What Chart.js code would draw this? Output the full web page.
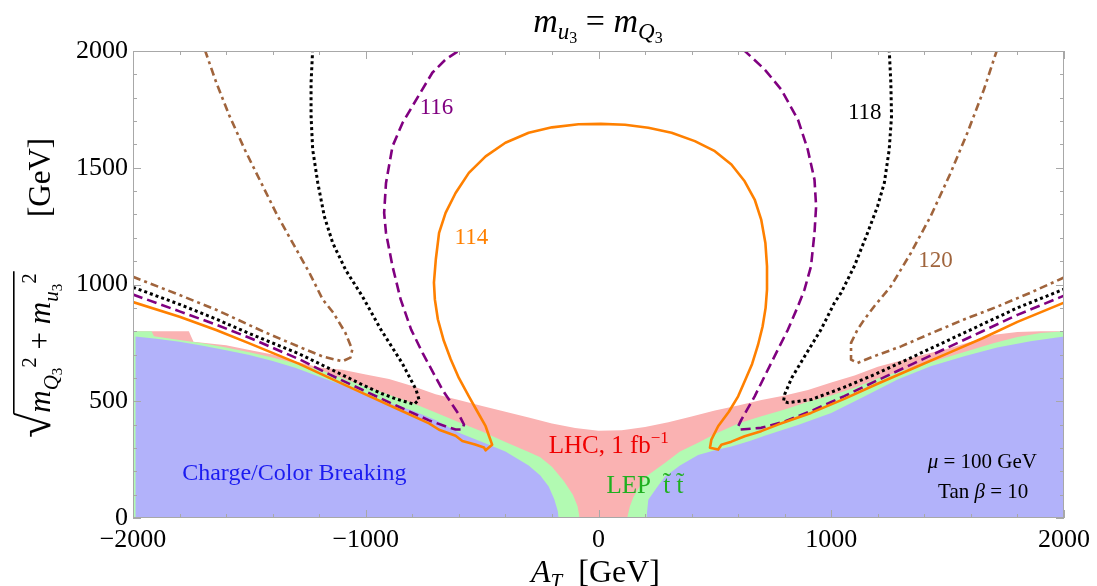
<!DOCTYPE html>
<html><head><meta charset="utf-8">
<script src="https://cdn.jsdelivr.net/npm/chart.js@4.4.1/dist/chart.umd.min.js"></script>
<style>html,body{margin:0;padding:0;background:#fff;overflow:hidden}#wrap{width:1097px;height:586px;position:relative}</style>
</head><body><div id="wrap"><canvas id="c"></canvas></div>
<script>
// ---- axis ticks ----
const xTickValues = [-2000, -1000, 0, 1000, 2000];
const yTickValues = [0, 500, 1000, 1500, 2000];

// ---- shaded regions (upper boundaries, [A_T, sqrt(mQ^2+mu^2)]) ----
const lhcTop = [[-2000,800],[-1900,800],[-1760,800],[-1740,755],[-1600,740],[-1500,720],[-1400,700],[-1300,670],[-1200,645],[-1100,635],[-1000,615],[-900,595],[-800,565],[-700,530],[-600,505],[-500,480],[-400,455],[-300,430],[-200,405],[-100,385],[0,374],[100,376],[200,390],[300,410],[400,435],[500,460],[600,482],[700,505],[800,525],[900,548],[1000,580],[1100,610],[1200,648],[1300,675],[1400,700],[1500,725],[1600,755],[1700,785],[1800,797],[1900,800],[2000,800]];
const lepLeft = [[-2000,800],[-1920,800],[-1910,778],[-1800,762],[-1700,748],[-1600,730],[-1500,710],[-1400,687],[-1300,662],[-1200,635],[-1100,600],[-1000,562],[-900,528],[-800,492],[-700,452],[-600,410],[-500,370],[-400,325],[-300,283],[-250,260],[-200,220],[-150,160],[-110,100],[-90,50],[-81,0]];
const lepRight = [[123,0],[135,50],[150,90],[200,175],[285,236],[350,285],[428,322],[500,360],[600,405],[700,436],[800,465],[900,498],[1000,525],[1100,558],[1200,598],[1300,630],[1400,660],[1500,690],[1600,720],[1700,750],[1800,775],[1900,792],[2000,800]];
const ccbLeft = [[-1990,777],[-1900,768],[-1800,755],[-1700,738],[-1600,718],[-1500,698],[-1400,672],[-1300,642],[-1200,605],[-1100,570],[-1000,525],[-900,492],[-800,460],[-700,420],[-600,365],[-500,325],[-400,285],[-300,225],[-250,182],[-214,135],[-190,80],[-175,30],[-171,0]];
const ccbRight = [[206,0],[210,40],[214,78],[250,130],[285,177],[350,225],[428,270],[500,290],[571,306],[650,330],[714,352],[800,380],[857,398],[1000,450],[1142,520],[1285,593],[1427,650],[1571,693],[1713,730],[1856,757],[2000,777]];

// ---- Higgs mass contours (GeV) ----
const contour114 = [[-2000,925],[-1800,862],[-1643,805],[-1500,748],[-1286,660],[-1156,600],[-1013,535],[-870,470],[-728,405],[-685,378],[-614,352],[-585,330],[-530,315],[-492,302],[-485,290],[-457,314],[-470,350],[-485,393],[-520,455],[-557,521],[-600,600],[-635,680],[-665,760],[-690,850],[-703,936],[-707,1008],[-699,1107],[-685,1221],[-657,1307],[-614,1392],[-557,1478],[-485,1549],[-400,1607],[-300,1650],[-200,1673],[-86,1686],[10,1688],[114,1684],[214,1671],[314,1650],[414,1614],[500,1571],[571,1514],[628,1442],[671,1364],[699,1278],[717,1178],[724,1078],[724,978],[718,900],[705,820],[685,740],[660,660],[630,590],[600,521],[560,455],[514,393],[485,336],[479,301],[514,293],[528,314],[571,327],[628,350],[699,372],[771,400],[913,450],[1056,510],[1199,575],[1350,640],[1500,705],[1650,770],[1800,840],[2000,922]];
const contour116Left = [[-2000,957],[-1800,885],[-1643,828],[-1500,772],[-1286,680],[-1156,615],[-1013,548],[-870,482],[-728,418],[-650,390],[-614,379],[-585,379],[-578,400],[-600,443],[-671,550],[-756,707],[-805,807],[-850,936],[-885,1078],[-913,1221],[-921,1307],[-913,1435],[-885,1592],[-842,1692],[-800,1763],[-714,1907],[-657,1964],[-592,2007]];
const contour116Right = [[621,2007],[714,1921],[785,1835],[857,1706],[899,1578],[928,1449],[935,1335],[928,1221],[913,1078],[885,978],[857,907],[814,807],[742,664],[671,521],[614,421],[600,393],[607,379],[699,386],[800,413],[913,458],[1056,522],[1199,590],[1350,660],[1500,730],[1650,800],[1800,870],[2000,952]];
const contour118Left = [[-2000,988],[-1800,915],[-1643,852],[-1500,790],[-1286,703],[-1156,640],[-1013,570],[-929,532],[-870,510],[-792,487],[-771,507],[-784,550],[-844,664],[-935,807],[-1015,950],[-1085,1060],[-1142,1178],[-1178,1292],[-1206,1435],[-1228,1578],[-1235,1721],[-1235,1864],[-1228,2007]];
const contour118Right = [[1249,2007],[1256,1864],[1259,1721],[1249,1578],[1228,1435],[1199,1335],[1156,1221],[1099,1078],[1042,964],[1013,920],[956,807],[886,693],[830,600],[800,530],[795,500],[814,494],[913,507],[1056,560],[1199,620],[1350,690],[1500,760],[1650,830],[1800,900],[2000,980]];
const contour120Left = [[-2000,1033],[-1800,955],[-1643,892],[-1430,794],[-1286,733],[-1186,692],[-1101,671],[-1066,687],[-1058,721],[-1088,794],[-1140,880],[-1185,936],[-1242,1050],[-1306,1164],[-1378,1292],[-1449,1435],[-1520,1578],[-1585,1721],[-1642,1864],[-1692,2007]];
const contour120Right = [[1713,2007],[1656,1835],[1585,1650],[1513,1478],[1427,1292],[1342,1135],[1256,992],[1185,907],[1142,850],[1113,807],[1085,750],[1085,678],[1113,664],[1185,693],[1300,735],[1427,790],[1570,850],[1713,905],[1856,965],[2000,1030]];
const contourLabels = ['114', '116', '118', '120'];

const SERIF = "'Liberation Serif', serif";
const C = { blue:'rgb(178,178,250)', green:'rgb(178,250,178)', pink:'rgb(250,178,178)',
  orange:'#ff8000', purple:'#800080', black:'#000000', brown:'#a0643c' };

const pts = a => a.map(([x, y]) => ({x, y}));
const region = (d, col, order) => ({ data: pts(d), showLine: true, fill: 'origin', backgroundColor: col,
  borderColor: 'rgba(0,0,0,0)', borderWidth: 0, pointRadius: 0, order });
const curve = (d, col, dash, w) => ({ data: pts(d), showLine: true, fill: false, borderColor: col,
  borderWidth: w, borderDash: dash, borderCapStyle: 'butt', borderJoinStyle: 'round', pointRadius: 0, order: 0, tension: 0 });
const fmt = v => (v < 0 ? '\u2212' + Math.abs(v) : String(v));

function seq(ctx, parts, x, y, align) {
  let w = 0;
  for (const p of parts) { ctx.font = p.f; w += ctx.measureText(p.t).width; }
  let cx = align === 'center' ? x - w / 2 : x;
  for (const p of parts) { ctx.font = p.f; if (p.c) ctx.fillStyle = p.c; ctx.fillText(p.t, cx, y + (p.dy || 0)); cx += ctx.measureText(p.t).width; }
  return cx;
}

const framePlugin = {
  id: 'frame',
  afterDatasetsDraw(chart) {
    const { ctx, chartArea: a, scales: { x, y } } = chart;
    ctx.save();
    ctx.strokeStyle = '#a8a8a8'; ctx.lineWidth = 1;
    ctx.strokeRect(a.left + 0.5, a.top + 0.5, a.right - a.left - 1, a.bottom - a.top - 1);
    ctx.beginPath();
    for (let v = -2000; v <= 2000; v += 200) {
      const p = Math.round(x.getPixelForValue(v)) + 0.5, L = v % 1000 === 0 ? 8 : 4;
      ctx.moveTo(p, a.bottom); ctx.lineTo(p, a.bottom - L);
      ctx.moveTo(p, a.top); ctx.lineTo(p, a.top + L);
    }
    for (let v = 0; v <= 2000; v += 100) {
      const p = Math.round(y.getPixelForValue(v)) + 0.5, L = v % 500 === 0 ? 8 : 4;
      ctx.moveTo(a.left, p); ctx.lineTo(a.left + L, p);
      ctx.moveTo(a.right, p); ctx.lineTo(a.right - L, p);
    }
    ctx.stroke();
    ctx.restore();
  }
};

const textPlugin = {
  id: 'texts',
  afterDraw(chart) {
    const { ctx, scales: { x, y } } = chart;
    const X = v => x.getPixelForValue(v), Y = v => y.getPixelForValue(v);
    ctx.save();
    ctx.textBaseline = 'middle'; ctx.textAlign = 'center';
    const lab = [[contourLabels[0], -546, 1199, C.orange], [contourLabels[1], -696, 1758, C.purple],
                 [contourLabels[2], 1144, 1734, C.black], [contourLabels[3], 1448, 1102, C.brown]];
    ctx.font = '23px ' + SERIF;
    for (const [t, vx, vy, col] of lab) { ctx.fillStyle = col; ctx.fillText(t, X(vx), Y(vy)); }
    ctx.textBaseline = 'alphabetic';
    ctx.fillStyle = '#1c1cf0'; ctx.font = '24px ' + SERIF;
    ctx.fillText('Charge/Color Breaking', X(-1307), Y(164));
    ctx.textAlign = 'left';
    seq(ctx, [{ t: 'LHC, 1 fb', f: '25px ' + SERIF, c: '#f00000' }, { t: '\u22121', f: '17px ' + SERIF, dy: -10 }], X(-214), Y(280));
    seq(ctx, [{ t: 'LEP  t\u0303 t\u0303', f: '25px ' + SERIF, c: '#1fb01f' }], X(34), Y(109));
    ctx.fillStyle = '#000';
    seq(ctx, [{ t: '\u03bc', f: 'italic 21px ' + SERIF }, { t: ' = 100 GeV', f: '21px ' + SERIF }], X(1649), Y(216), 'center');
    seq(ctx, [{ t: 'Tan ', f: '21px ' + SERIF }, { t: '\u03b2', f: 'italic 21px ' + SERIF }, { t: ' = 10', f: '21px ' + SERIF }], X(1653), Y(87), 'center');
    const I = s => 'italic ' + s + 'px ' + SERIF, R = s => s + 'px ' + SERIF;
    // title
    seq(ctx, [{ t: 'm', f: I(34) }, { t: 'u', f: I(23), dy: 7 }, { t: '3', f: R(16), dy: 11 },
              { t: ' = ', f: R(34) }, { t: 'm', f: I(34) }, { t: 'Q', f: I(23), dy: 7 }, { t: '3', f: R(16), dy: 11 }],
        598, 32, 'center');
    // x axis title
    seq(ctx, [{ t: 'A', f: I(32) }, { t: 'T', f: I(21), dy: 6 }, { t: '  [GeV]', f: R(32) }], 531, 582);
    // y axis title (rotated)
    ctx.save();
    ctx.translate(50, 478); ctx.rotate(-Math.PI / 2);
    ctx.font = R(46);
    const rm = ctx.measureText('\u221a');
    ctx.fillText('\u221a', 40, 0);
    const endU = seq(ctx, [{ t: 'm', f: I(31) }, { t: 'Q', f: I(21), dy: 8 }, { t: '3', f: R(15), dy: 12 },
              { t: '2', f: R(21), dy: -14 }, { t: ' + ', f: R(31) }, { t: 'm', f: I(31) }, { t: 'u', f: I(21), dy: 8 },
              { t: '3', f: R(15), dy: 12 }, { t: '2', f: R(21), dy: -14 }], 40 + rm.width, 0);
    ctx.strokeStyle = '#000'; ctx.lineWidth = 1.6;
    ctx.beginPath(); ctx.moveTo(40 + rm.width - 1, -rm.actualBoundingBoxAscent + 0.8); ctx.lineTo(endU + 2, -rm.actualBoundingBoxAscent + 0.8); ctx.stroke();
    seq(ctx, [{ t: '[GeV]', f: R(31) }], 261, 0);
    ctx.restore();
    ctx.restore();
  }
};

new Chart(document.getElementById('c'), {
  type: 'scatter',
  data: { datasets: [
    curve(contour114, C.orange, [], 2.6),
    curve(contour116Left, C.purple, [10, 5], 2.6),
    curve(contour116Right, C.purple, [10, 5], 2.6),
    curve(contour118Left, C.black, [3, 3], 3),
    curve(contour118Right, C.black, [3, 3], 3),
    curve(contour120Left, C.brown, [8, 4, 3, 4], 2.6),
    curve(contour120Right, C.brown, [8, 4, 3, 4], 2.6),
    region(ccbLeft, C.blue, 1),
    region(ccbRight, C.blue, 1),
    region(lepLeft, C.green, 2),
    region(lepRight, C.green, 2),
    region(lhcTop, C.pink, 3)
  ] },
  options: {
    responsive: true, maintainAspectRatio: false, animation: false,
    layout: { padding: { top: 51, right: 29, left: 0, bottom: 0 } },
    plugins: { legend: { display: false }, tooltip: { enabled: false }, title: { display: false } },
    scales: {
      x: { type: 'linear', min: -2000, max: 2000,
        afterBuildTicks: s => { s.ticks = xTickValues.map(v => ({ value: v })); },
        afterFit: s => { s.height = 68; },
        ticks: { font: { family: SERIF, size: 26 }, color: '#000', padding: 7, maxRotation: 0, autoSkip: false, callback: v => fmt(v) },
        grid: { display: false, drawTicks: false }, border: { display: false } },
      y: { type: 'linear', min: 0, max: 2000,
        afterBuildTicks: s => { s.ticks = yTickValues.map(v => ({ value: v })); },
        afterFit: s => { s.width = 133; },
        ticks: { font: { family: SERIF, size: 26 }, color: '#000', padding: 5, autoSkip: false, callback: v => fmt(v) },
        grid: { display: false, drawTicks: false }, border: { display: false } }
    }
  },
  plugins: [framePlugin, textPlugin]
});
</script>
</body></html>
